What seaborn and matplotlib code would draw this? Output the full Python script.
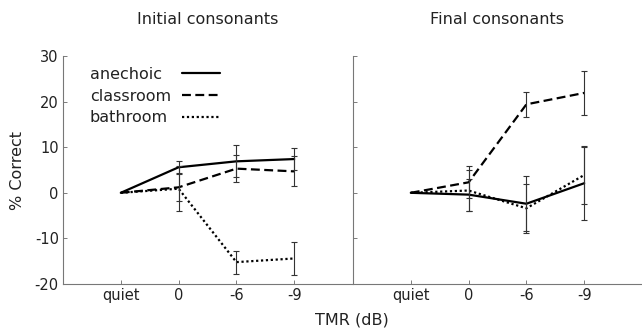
import matplotlib
matplotlib.use("Agg")
import matplotlib.pyplot as plt
from matplotlib.lines import Line2D
import seaborn as sns
import pandas as pd
import numpy as np

sns.set_theme(style="white")
plt.rcParams['font.family'] = ['DejaVu Sans']
plt.rcParams['axes.unicode_minus'] = False
plt.rcParams['text.color'] = '#222222'
plt.rcParams['axes.labelcolor'] = '#222222'
plt.rcParams['xtick.color'] = '#666666'
plt.rcParams['ytick.color'] = '#666666'
plt.rcParams['xtick.labelcolor'] = '#222222'
plt.rcParams['ytick.labelcolor'] = '#222222'

tmr_labels = ["quiet", "0", "-6", "-9"]
conditions = ["anechoic", "classroom", "bathroom"]

# Initial consonants
init_anechoic = [0, 5.6, 6.9, 7.4]
init_classroom = [0, 1.2, 5.3, 4.7]
init_bathroom = [0, 0.9, -15.2, -14.4]
init_anechoic_err = [0, 1.3, 3.5, 2.5]
init_classroom_err = [0, 3.0, 3.0, 3.3]
init_bathroom_err = [0, 5.0, 2.5, 3.7]

# Final consonants
final_anechoic = [0, -0.4, -2.4, 2.1]
final_classroom = [0, 2.3, 19.4, 21.9]
final_bathroom = [0, 0.5, -3.4, 3.9]
final_anechoic_err = [0, 3.5, 6.0, 8.0]
final_classroom_err = [0, 3.5, 2.7, 4.9]
final_bathroom_err = [0, 4.4, 5.4, 6.3]

panels = [
    ("Initial consonants", [init_anechoic, init_classroom, init_bathroom],
     [init_anechoic_err, init_classroom_err, init_bathroom_err]),
    ("Final consonants", [final_anechoic, final_classroom, final_bathroom],
     [final_anechoic_err, final_classroom_err, final_bathroom_err]),
]

dashes = {"anechoic": "", "classroom": (4, 2), "bathroom": (1, 1.2)}
palette = {c: "black" for c in conditions}

fig = plt.figure(figsize=(6.42, 3.29), dpi=100)
W, H = 642, 329
axes = [fig.add_axes([63 / W, 1 - 284 / H, 289 / W, 228 / H]),
        fig.add_axes([353 / W, 1 - 284 / H, 289 / W, 228 / H])]

handles = None
for i, (ax, (title, vals, errs)) in enumerate(zip(axes, panels)):
    rows = []
    for c, v in zip(conditions, vals):
        for j, y in enumerate(v):
            rows.append({"pos": j, "val": y, "cond": c})
    df = pd.DataFrame(rows)
    sns.lineplot(data=df, x="pos", y="val", hue="cond", style="cond",
                 dashes=dashes, palette=palette, linewidth=1.6, ax=ax,
                 legend=(i == 0), errorbar=None)
    if i == 0:
        handles, labels = ax.get_legend_handles_labels()
        ax.get_legend().remove()
    for c, v, e in zip(conditions, vals, errs):
        x = np.arange(len(v))[1:]
        ax.errorbar(x, v[1:], yerr=e[1:], fmt="none", ecolor="#333333",
                    elinewidth=0.8, capsize=2.5, capthick=0.8)
    ax.set_xlim(-1, 4)
    ax.set_ylim(-20, 30)
    ax.set_xticks(range(len(tmr_labels)))
    ax.set_yticks([-20, -10, 0, 10, 20, 30])
    ax.tick_params(direction="in", length=3, width=0.6,
                   labelsize=10.5, pad=3, bottom=True, left=True)
    ax.set_xticklabels(tmr_labels)
    for s in ["top", "right"]:
        ax.spines[s].set_visible(False)
    for s in ["left", "bottom"]:
        ax.spines[s].set_color("#777777")
        ax.spines[s].set_linewidth(0.8)
    ax.set_xlabel("")
    ax.set_ylabel("")
    ax.set_title(title, fontsize=11.5, pad=23)
    if i == 1:
        ax.set_yticklabels([])
    ax.set_facecolor("white")

axes[0].set_ylabel("% Correct", fontsize=11.5)
axes[0].yaxis.set_label_coords(-0.131, 0.5)
fig.text(352 / W, 1 - 320 / H, "TMR (dB)", ha="center", va="center", fontsize=11.5)

# legend: left-aligned labels, line samples to the right
ax0 = axes[0]
blank = [Line2D([], [], alpha=0) for _ in labels]
leg_txt = ax0.legend(blank, labels, loc="upper left", bbox_to_anchor=(0.071, 0.98),
                     frameon=False, fontsize=11.5, handlelength=0, handletextpad=0,
                     labelspacing=0.42, borderaxespad=0)
ax0.add_artist(leg_txt)
leg_lines = ax0.legend(handles, [" "] * len(handles), loc="upper left",
                       bbox_to_anchor=(0.39, 0.98), frameon=False, fontsize=11.5,
                       handlelength=2.4, handletextpad=0, labelspacing=0.42,
                       borderaxespad=0)
for line in leg_lines.get_lines():
    line.set_linewidth(1.6)

fig.savefig("out.png", dpi=100, facecolor="white")
